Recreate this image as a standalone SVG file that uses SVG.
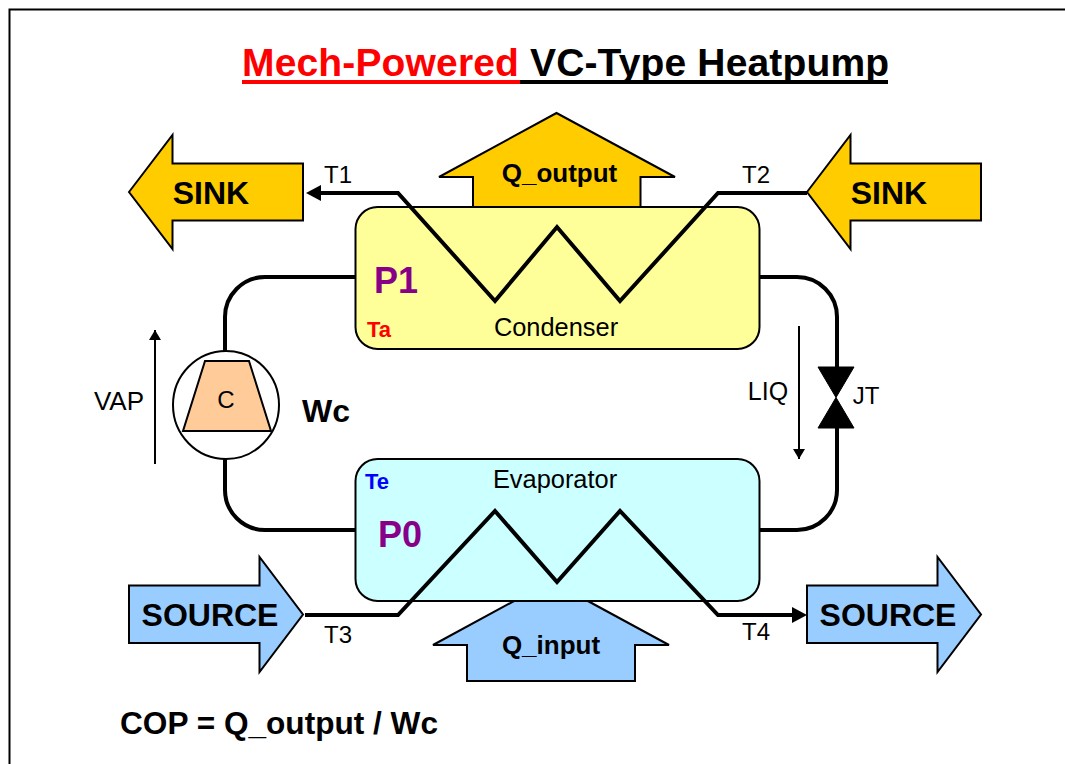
<svg xmlns="http://www.w3.org/2000/svg" width="1065" height="764" viewBox="0 0 1065 764">
<style>
text{font-family:"Liberation Sans",Arial,sans-serif;fill:#000}
.b{font-weight:bold}
.s{stroke:#000;stroke-width:2;stroke-linejoin:miter}
.sink{fill:#fc0}
.src{fill:#9cf}
.pipe{fill:none;stroke:#000;stroke-width:4}
.thin{fill:none;stroke:#000;stroke-width:2}
.big{font-size:32px;font-weight:bold;text-anchor:middle}
.lab{font-size:24px;text-anchor:middle}
.wide{font-size:25.400px;text-anchor:middle}
.q{font-size:26px;font-weight:bold;text-anchor:middle}
.p{font-size:36px;font-weight:bold;fill:#808;text-anchor:middle}
.t{font-size:39px;font-weight:bold;letter-spacing:0.150px}
</style>
<defs>
<marker id="m" markerUnits="userSpaceOnUse" markerWidth="10" markerHeight="12" refX="10" refY="6" orient="auto"><path d="M0 0L10 6L0 12Z" fill="#000"/></marker>
<marker id="M" markerUnits="userSpaceOnUse" markerWidth="16" markerHeight="16" refX="1" refY="8" orient="auto"><path d="M0 0L15 8L0 16Z" fill="#000"/></marker>
</defs>
<rect width="1065" height="764" fill="#fff"/>
<path id="frame" d="M9.500 764V9.500H1065" fill="none" stroke="#000" stroke-width="2"/>
<g id="title">
<text x="242" y="76" class="t" style="fill:#f00">Mech-Powered</text>
<text x="530" y="76" class="t">VC-Type Heatpump</text>
<rect x="242" y="80" width="278" height="4" fill="#f00"/>
<rect x="520" y="80" width="368" height="4" fill="#000"/>
</g>
<g id="q-output"><path class="s sink" d="M556.500 113L675 177H640.500V208H473V177H439Z"/><text x="559.500" y="182" class="q">Q_output</text></g>
<g id="q-input"><path class="s src" d="M551 581L669 645H635V681H467V645H433Z"/><text x="551" y="654" class="q">Q_input</text></g>
<g id="condenser"><rect class="s" x="355.500" y="207" width="404" height="142" rx="22" fill="#ff9"/><text x="556" y="336" class="wide">Condenser</text><text x="396" y="293" class="p">P1</text><text x="379" y="337" font-size="22" class="b" style="fill:#f00" text-anchor="middle">Ta</text></g>
<g id="evaporator"><rect class="s" x="355.500" y="459" width="404" height="142" rx="22" fill="#cff"/><text x="555" y="488" class="wide">Evaporator</text><text x="400" y="547" class="p">P0</text><text x="377" y="489" font-size="22" class="b" style="fill:#00f" text-anchor="middle">Te</text></g>
<g id="sink-left"><path class="s sink" d="M129 192L172.500 135V163.500H303V220.500H172.500V249Z"/><text x="211" y="204" class="big">SINK</text></g>
<g id="sink-right"><path class="s sink" d="M807 192L850.500 135V163.500H981V220.500H850.500V249Z"/><text x="889" y="204" class="big">SINK</text></g>
<g id="source-left"><path class="s src" d="M129 585.500H259.500V557L303 614.500L259.500 672V643H129Z"/><text x="210" y="626" class="big">SOURCE</text></g>
<g id="source-right"><path class="s src" d="M807 585.500H937.500V557L981 614.500L937.500 672V643H807Z"/><text x="888" y="626" class="big">SOURCE</text></g>
<g id="connectors">
<path class="pipe" d="M355 277H265A40 40 0 0 0 225 317V351"/>
<path class="pipe" d="M225 459V490A40 40 0 0 0 265 530H355"/>
<path class="pipe" d="M760 277H797A40 40 0 0 1 837 317V367"/>
<path class="pipe" d="M837 428V490A40 40 0 0 1 797 530H760"/>
<path class="pipe" d="M807 193H718L620 301L557 227L495 301L398 193H320" marker-end="url(#M)"/>
<path class="pipe" d="M305 615H398L495 511L557 582L620 511L718 615H793" marker-end="url(#M)"/>
<path class="thin" d="M155 464V330" marker-end="url(#m)"/>
<path class="thin" d="M799 326V459" marker-end="url(#m)"/>
</g>
<g id="compressor"><ellipse class="s" cx="226" cy="405" rx="53" ry="54" fill="#fff"/><path class="s" d="M205 361H249L271 431H183Z" fill="#fc9"/><text x="226" y="408" class="lab">C</text></g>
<g id="valve"><path d="M818 367H854L818 428H854Z" fill="#000" stroke="#000" stroke-width="1"/></g>
<g id="labels">
<text x="338" y="183" class="lab">T1</text>
<text x="756" y="183" class="lab">T2</text>
<text x="338" y="643" class="lab">T3</text>
<text x="756" y="640" class="lab">T4</text>
<text x="119" y="410" class="lab" style="font-size:26px">VAP</text>
<text x="768" y="400" class="lab" style="font-size:25px">LIQ</text>
<text x="866" y="404" class="lab">JT</text>
<text x="326" y="422" font-size="32" class="b" text-anchor="middle">Wc</text>
<text x="279" y="734" font-size="31.600" class="b" text-anchor="middle">COP = Q_output / Wc</text>
</g>
</svg>
